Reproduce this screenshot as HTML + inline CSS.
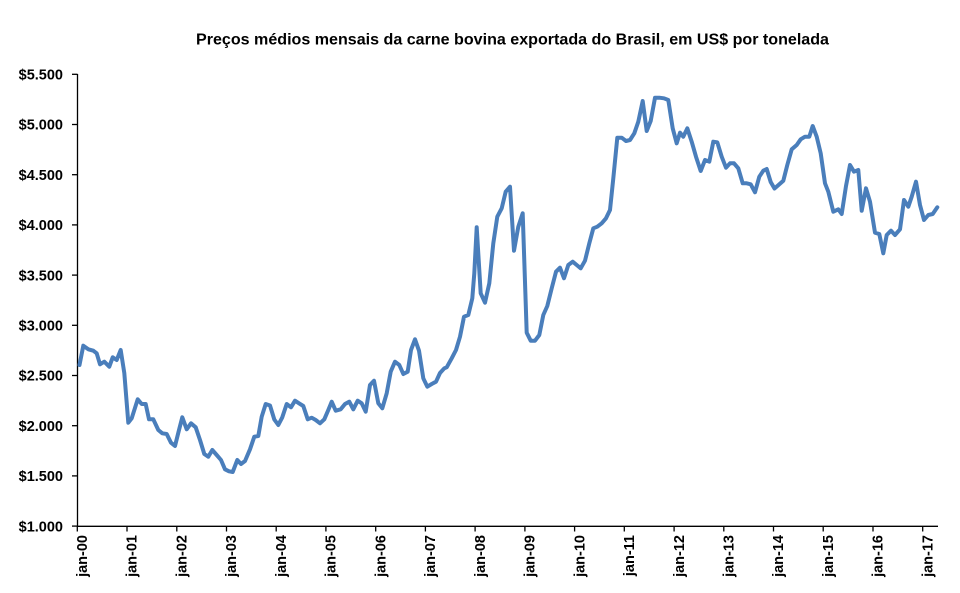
<!DOCTYPE html>
<html>
<head>
<meta charset="utf-8">
<style>
  html, body { margin: 0; padding: 0; background: #ffffff; }
  svg { display: block; }
  text { font-family: "Liberation Sans", "DejaVu Sans", sans-serif; font-weight: bold; fill: #000; }
</style>
</head>
<body>
<svg width="960" height="593" viewBox="0 0 960 593" xmlns="http://www.w3.org/2000/svg">
  <rect x="0" y="0" width="960" height="593" fill="#ffffff"/>

  <!-- Title -->
  <text x="196" y="44.3" font-size="15.5" textLength="633" lengthAdjust="spacingAndGlyphs">Preços médios mensais da carne bovina exportada do Brasil, em US$ por tonelada</text>

  <!-- Y axis -->
  <line x1="77.5" y1="74" x2="77.5" y2="526.8" stroke="#000" stroke-width="1.3"/>
  <g stroke="#000" stroke-width="1.3">
    <line x1="72" y1="74.3" x2="77.5" y2="74.3"/>
    <line x1="72" y1="124.5" x2="77.5" y2="124.5"/>
    <line x1="72" y1="174.7" x2="77.5" y2="174.7"/>
    <line x1="72" y1="224.9" x2="77.5" y2="224.9"/>
    <line x1="72" y1="275.1" x2="77.5" y2="275.1"/>
    <line x1="72" y1="325.3" x2="77.5" y2="325.3"/>
    <line x1="72" y1="375.5" x2="77.5" y2="375.5"/>
    <line x1="72" y1="425.7" x2="77.5" y2="425.7"/>
    <line x1="72" y1="475.9" x2="77.5" y2="475.9"/>
    <line x1="72" y1="526.1" x2="77.5" y2="526.1"/>
  </g>
  <g font-size="14.5" text-anchor="end">
    <text x="63" y="79.5">$5.500</text>
    <text x="63" y="129.7">$5.000</text>
    <text x="63" y="179.9">$4.500</text>
    <text x="63" y="230.1">$4.000</text>
    <text x="63" y="280.3">$3.500</text>
    <text x="63" y="330.5">$3.000</text>
    <text x="63" y="380.7">$2.500</text>
    <text x="63" y="430.9">$2.000</text>
    <text x="63" y="481.1">$1.500</text>
    <text x="63" y="531.3">$1.000</text>
  </g>

  <!-- X axis -->
  <line x1="77" y1="526.3" x2="938" y2="526.3" stroke="#000" stroke-width="1.3"/>
  <g stroke="#000" stroke-width="1.3">
    <line x1="77.3" y1="526" x2="77.3" y2="531.5"/>
    <line x1="127.0" y1="526" x2="127.0" y2="531.5"/>
    <line x1="176.8" y1="526" x2="176.8" y2="531.5"/>
    <line x1="226.5" y1="526" x2="226.5" y2="531.5"/>
    <line x1="276.2" y1="526" x2="276.2" y2="531.5"/>
    <line x1="325.9" y1="526" x2="325.9" y2="531.5"/>
    <line x1="375.7" y1="526" x2="375.7" y2="531.5"/>
    <line x1="425.4" y1="526" x2="425.4" y2="531.5"/>
    <line x1="475.1" y1="526" x2="475.1" y2="531.5"/>
    <line x1="524.9" y1="526" x2="524.9" y2="531.5"/>
    <line x1="574.6" y1="526" x2="574.6" y2="531.5"/>
    <line x1="624.3" y1="526" x2="624.3" y2="531.5"/>
    <line x1="674.1" y1="526" x2="674.1" y2="531.5"/>
    <line x1="723.8" y1="526" x2="723.8" y2="531.5"/>
    <line x1="773.5" y1="526" x2="773.5" y2="531.5"/>
    <line x1="823.2" y1="526" x2="823.2" y2="531.5"/>
    <line x1="873.0" y1="526" x2="873.0" y2="531.5"/>
    <line x1="922.7" y1="526" x2="922.7" y2="531.5"/>
  </g>
  <g font-size="14.5" text-anchor="end">
    <text transform="translate(87,535) rotate(-90)">jan-00</text>
    <text transform="translate(136.7,535) rotate(-90)">jan-01</text>
    <text transform="translate(186.5,535) rotate(-90)">jan-02</text>
    <text transform="translate(236.2,535) rotate(-90)">jan-03</text>
    <text transform="translate(285.9,535) rotate(-90)">jan-04</text>
    <text transform="translate(335.6,535) rotate(-90)">jan-05</text>
    <text transform="translate(385.4,535) rotate(-90)">jan-06</text>
    <text transform="translate(435.1,535) rotate(-90)">jan-07</text>
    <text transform="translate(484.8,535) rotate(-90)">jan-08</text>
    <text transform="translate(534.6,535) rotate(-90)">jan-09</text>
    <text transform="translate(584.3,535) rotate(-90)">jan-10</text>
    <text transform="translate(634,535) rotate(-90)">jan-11</text>
    <text transform="translate(683.8,535) rotate(-90)">jan-12</text>
    <text transform="translate(733.5,535) rotate(-90)">jan-13</text>
    <text transform="translate(783.2,535) rotate(-90)">jan-14</text>
    <text transform="translate(832.9,535) rotate(-90)">jan-15</text>
    <text transform="translate(882.7,535) rotate(-90)">jan-16</text>
    <text transform="translate(932.4,535) rotate(-90)">jan-17</text>
  </g>

  <!-- Series -->
  <path fill="none" stroke="#4a7ebb" stroke-width="4" stroke-linejoin="round" stroke-linecap="round"
    d="M79.5,365 L83.3,345.7 L88.3,349.3 L93.3,350.7 L96.7,353.3 L100,364.3 L104.3,361.7 L109.3,366.7 L112.7,357.3 L116.7,360 L120.7,350 L124.3,373 L128.3,422.7 L131.7,418.3 L137.7,399.3 L141.7,404 L145.7,404 L149,419.3 L153.3,419.3 L158.3,430 L162.3,433.3 L166.7,434 L171,442.7 L175,446 L179,430 L182.3,417.3 L186.7,429.3 L191,423.3 L195.7,427.3 L200,440 L204.3,454 L208.3,456.7 L212.3,450 L216.7,455 L221,460 L225,469.3 L229,471.3 L232.7,472 L237.3,460 L241,464 L245,461 L250,449.3 L254.3,436.7 L258.3,436 L261.7,416.7 L265.7,404 L270,405.5 L274.3,419.5 L278.3,425 L282.3,417.3 L286.7,404 L291,407.3 L295,400.7 L299,403.3 L303.3,406 L307.7,419.3 L311.7,417.7 L315.7,420 L320,423.3 L324.3,419.3 L328.3,410 L331.7,401.7 L335.7,410.7 L340.7,409.3 L345,404 L349.3,401.7 L353.3,409.3 L357.7,400.7 L361.7,403.3 L365.7,411.7 L370,385 L374,380.7 L378.3,403.3 L382.3,408.3 L386.7,393.3 L390.7,371.7 L395,361.7 L399.3,365 L403.3,374 L407.7,371.7 L411,350 L415,339.3 L419,350.7 L423.3,378.3 L427.3,386.7 L431.7,384 L436,381.7 L440,373 L444.3,368.3 L446.7,367.3 L451.7,358.3 L456,350 L460,336.7 L464,316.7 L468.3,315 L472.3,298.3 L474.3,273.3 L476.7,227.3 L480.7,293.3 L485,302.7 L489.3,283.3 L493.3,243.3 L497.3,216.7 L501.7,208.3 L505.7,191.7 L510,186.7 L514,250.7 L518.3,226.7 L522.7,213.3 L526.7,332.7 L530.7,340.7 L535,340.7 L539.3,335 L543.3,315 L547.3,306 L551.7,288.3 L556,271.7 L560,267.7 L564,278.3 L568.3,265 L572.7,261.7 L576.7,265 L580.7,268.3 L585,260.7 L589.3,243.3 L593.3,228.3 L597.3,226.7 L601.7,223.3 L606,218.3 L610,210 L613.3,178.3 L617.3,137.7 L621.7,137.7 L626,141 L630,140 L634.3,133.3 L638.3,121.7 L642.7,101 L646.7,131 L650.7,121 L655,97.7 L659.3,97.7 L664,98.3 L668.3,100 L672.7,128.3 L676.7,143.3 L680,132.7 L683.3,136.7 L687.3,128.3 L691.7,141.7 L696,156.7 L700.7,171 L705,160 L709.3,161.7 L713.3,141.7 L717.3,142.3 L721.7,156.7 L726,167.7 L730,163.3 L734,163.3 L738.3,168.3 L742.7,183.3 L746.7,183.3 L750.7,184.3 L755,192.3 L759.3,176.7 L763.3,170.7 L766.7,169 L770.7,182 L774.5,188.5 L778.5,185 L783.3,180.7 L787.3,165 L791.7,149.3 L796.7,145 L800.7,139.3 L805,136.7 L809.3,136.7 L812.7,126 L816.7,136.7 L820.7,153.3 L825,183.3 L828.3,191.7 L833.3,211.7 L838.3,209.3 L841.7,214 L846,186 L850,165 L854,171.7 L858.3,170 L861.7,210.7 L866,188.3 L870,201.7 L875,232.7 L879.3,234 L883.3,253.3 L886.7,235 L891,230.7 L895,235 L900,229.3 L904,200 L908.3,206.7 L911.7,196.7 L916,181.7 L920,205 L924,220 L928.3,215 L932.7,214 L937.3,207.3"/>
</svg>
</body>
</html>
